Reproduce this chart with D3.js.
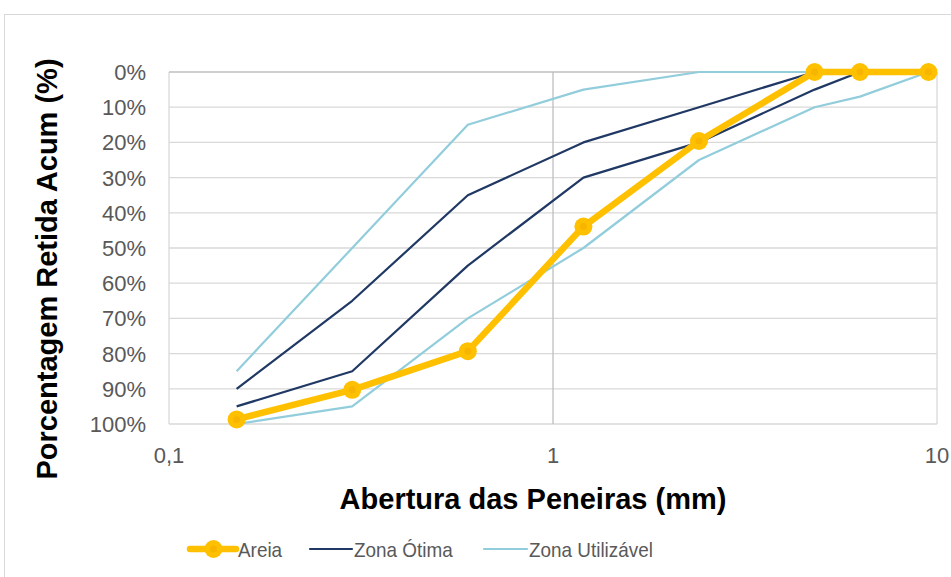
<!DOCTYPE html>
<html>
<head>
<meta charset="utf-8">
<script src="https://cdn.jsdelivr.net/npm/d3@7"></script>
<style>
  html, body { margin: 0; padding: 0; background: #fff; }
  svg { display: block; font-family: "Liberation Sans", Arial, sans-serif; }
</style>
</head>
<body>
<svg id="chart" width="951" height="577"></svg>
<script>
// Sieve openings (mm)
const sieves = [0.15, 0.3, 0.6, 1.2, 2.4, 4.8, 6.3, 9.5];
// Accumulated retained percentage of the sand sample
const areia = [98.7, 90.3, 79.3, 43.9, 19.6, 0, 0, 0];
// Optimal zone limits
const otimaInf = [90, 65, 35, 20, 10, 0, 0, 0];
const otimaSup = [95, 85, 55, 30, 20, 5, 0, 0];
// Usable zone limits
const utilInf = [85, 50, 15, 5, 0, 0, 0, 0];
const utilSup = [100, 95, 70, 50, 25, 10, 7, 0];
// Axis ticks
const yTicks = [0, 10, 20, 30, 40, 50, 60, 70, 80, 90, 100];
const xTicks = [0.1, 1, 10];
const xTickLabels = ["0,1", "1", "10"];

const svg = d3.select("#chart");
const colors = { areia: "#FFC000", otima: "#203864", util: "#92CDDC" };

const plot = { left: 169, right: 937, top: 72, bottom: 424 };
const x = d3.scaleLog().domain([0.1, 10]).range([plot.left, plot.right]);
const y = d3.scaleLinear().domain([0, 100]).range([plot.top, plot.bottom]);

// Outer chart frame
svg.append("rect")
  .attr("x", 4.5).attr("y", 14.5).attr("width", 960).attr("height", 580)
  .attr("fill", "none").attr("stroke", "#D9D9D9").attr("stroke-width", 1);

// Horizontal gridlines
svg.append("g").selectAll("line").data(yTicks.filter(d => d !== 0)).join("line")
  .attr("x1", plot.left).attr("x2", plot.right)
  .attr("y1", d => y(d)).attr("y2", d => y(d))
  .attr("stroke", "#D9D9D9").attr("stroke-width", 1.3);

// Vertical gridlines at decades
svg.append("g").selectAll("line").data([0.1, 10]).join("line")
  .attr("x1", d => x(d)).attr("x2", d => x(d))
  .attr("y1", plot.top).attr("y2", plot.bottom)
  .attr("stroke", "#D9D9D9").attr("stroke-width", 1.3);

// Axis lines (x axis at 0%, y axis crossing at 1 mm)
svg.append("line")
  .attr("x1", plot.left).attr("x2", plot.right)
  .attr("y1", y(0)).attr("y2", y(0))
  .attr("stroke", "#BFBFBF").attr("stroke-width", 1.3);
svg.append("line")
  .attr("x1", x(1)).attr("x2", x(1))
  .attr("y1", plot.top).attr("y2", plot.bottom)
  .attr("stroke", "#BFBFBF").attr("stroke-width", 1.3);

// Y tick labels
svg.append("g").selectAll("text").data(yTicks).join("text")
  .attr("x", 146).attr("y", d => y(d))
  .attr("dy", "0.36em")
  .attr("text-anchor", "end")
  .attr("font-size", 22).attr("fill", "#595959")
  .text(d => d + "%");

// X tick labels
svg.append("g").selectAll("text").data(xTicks).join("text")
  .attr("x", d => x(d)).attr("y", 463)
  .attr("text-anchor", "middle")
  .attr("font-size", 22).attr("fill", "#595959")
  .text((d, i) => xTickLabels[i]);

// Axis titles
svg.append("text")
  .attr("x", 533).attr("y", 509)
  .attr("text-anchor", "middle")
  .attr("font-size", 29).attr("font-weight", "bold").attr("fill", "#000")
  .text("Abertura das Peneiras (mm)");
svg.append("text")
  .attr("transform", "translate(57,269) rotate(-90)")
  .attr("text-anchor", "middle")
  .attr("font-size", 29).attr("font-weight", "bold").attr("fill", "#000")
  .text("Porcentagem Retida Acum (%)");

const line = d3.line().x((d, i) => x(sieves[i])).y(d => y(d));

function drawSeries(values, color, width) {
  svg.append("path").datum(values)
    .attr("d", line)
    .attr("fill", "none").attr("stroke", color)
    .attr("stroke-width", width).attr("stroke-linejoin", "round");
}

drawSeries(utilInf, colors.util, 2.2);
drawSeries(utilSup, colors.util, 2.2);
drawSeries(otimaInf, colors.otima, 2.2);
drawSeries(otimaSup, colors.otima, 2.2);
drawSeries(areia, colors.areia, 6.5);

// Sand markers
const markers = svg.append("g").selectAll("g").data(areia).join("g")
  .attr("transform", (d, i) => `translate(${x(sieves[i])},${y(d)})`);
markers.append("circle").attr("r", 9).attr("fill", colors.areia);
markers.append("circle").attr("r", 3.5).attr("fill", "#F7B500");

// Legend
const legend = svg.append("g").attr("transform", "translate(0,549)");
const items = [
  { label: "Areia", color: colors.areia, width: 6.5, x1: 190, x2: 236, marker: true },
  { label: "Zona Ótima", color: colors.otima, width: 2.2, x1: 310, x2: 352, marker: false },
  { label: "Zona Utilizável", color: colors.util, width: 2.2, x1: 484, x2: 527, marker: false }
];
items.forEach(it => {
  legend.append("line")
    .attr("x1", it.x1).attr("x2", it.x2).attr("y1", 0).attr("y2", 0)
    .attr("stroke", it.color).attr("stroke-width", it.width)
    .attr("stroke-linecap", "round");
  if (it.marker) {
    legend.append("circle").attr("cx", (it.x1 + it.x2) / 2 + 0.5).attr("cy", 0)
      .attr("r", 9).attr("fill", it.color);
    legend.append("circle").attr("cx", (it.x1 + it.x2) / 2 + 0.5).attr("cy", 0)
      .attr("r", 3.5).attr("fill", "#F7B500");
  }
  legend.append("text")
    .attr("transform", `translate(${it.x2 + 2},0) scale(0.9,1)`)
    .attr("dy", "0.36em")
    .attr("font-size", 21).attr("fill", "#595959")
    .text(it.label);
});
</script>
</body>
</html>
